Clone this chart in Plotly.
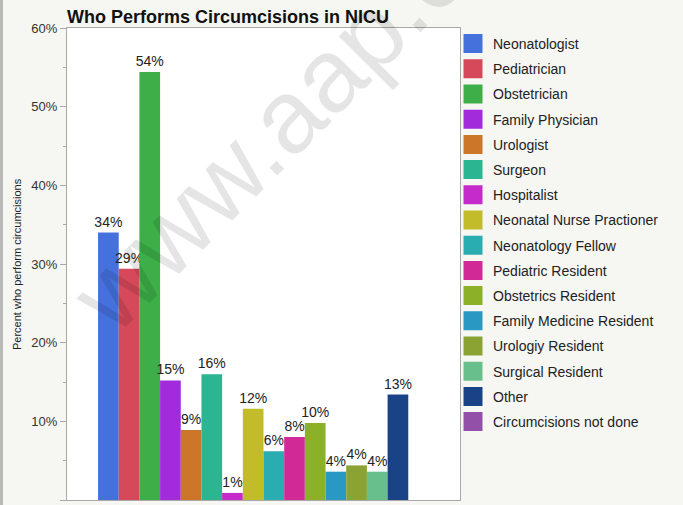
import plotly.graph_objects as go

categories = ["Neonatologist", "Pediatrician", "Obstetrician", "Family Physician", "Urologist",
              "Surgeon", "Hospitalist", "Neonatal Nurse Practioner", "Neonatology Fellow",
              "Pediatric Resident", "Obstetrics Resident", "Family Medicine Resident",
              "Urologiy Resident", "Surgical Resident", "Other", "Circumcisions not done"]
values = [34.0, 29.4, 54.4, 15.2, 8.9, 16.0, 0.9, 11.6, 6.2, 8.0, 9.8, 3.6, 4.4, 3.6, 13.4, 0.0]
colors = ["#4471dc", "#d5495a", "#3dae48", "#a22bdc", "#cc7629", "#2bb590", "#c52bca", "#c3bc2a",
          "#29adb0", "#d12a96", "#8cb027", "#2999c3", "#8ba332", "#69bf8b", "#1a4286", "#9250a8"]
yticks = [0, 10, 20, 30, 40, 50, 60]

W, H = 683, 505
L, R, T, B = 67, 223, 28, 5
pw = W - L - R
ph = H - T - B

fig = go.Figure()
for i, (name, v, c) in enumerate(zip(categories, values, colors)):
    fig.add_trace(go.Bar(
        x=[""], y=[v], name=name, marker=dict(color=c, line=dict(width=0)),
        text=[f"{round(v)}%" if v > 0 else ""], textposition="outside",
        textfont=dict(size=14, color="#222222", family="Liberation Sans, Arial"),
        constraintext="none", cliponaxis=False, showlegend=False, legendgroup=f"g{i}",
    ))
    fig.add_trace(go.Scatter(
        x=[None], y=[None], mode="markers", name=name, legendgroup=f"g{i}",
        marker=dict(symbol="square", size=16, color=c, line=dict(color=c, width=3)),
        showlegend=True,
    ))

fig.update_layout(
    width=W, height=H,
    margin=dict(l=L, r=R, t=T, b=B),
    paper_bgcolor="#f6f6f2", plot_bgcolor="#ffffff",
    barmode="group", bargap=0.158, bargroupgap=0,
    font=dict(family="Liberation Sans, Arial", color="#222222"),
    title=dict(text="<b>Who Performs Circumcisions in NICU</b>", x=L / W, xanchor="left",
               y=1 - 17 / H, yanchor="middle", font=dict(size=18, color="#111111")),
    xaxis=dict(showticklabels=False, ticks="", showgrid=False, showline=True,
               linecolor="#a8a8a8", linewidth=1, mirror=True, range=[-0.5, 0.5]),
    yaxis=dict(range=[0, 60], tickvals=yticks, ticktext=[f"{t}%" for t in yticks],
               ticks="outside", ticklen=6, tickcolor="#a8a8a8", showgrid=False,
               showline=True, linecolor="#a8a8a8", linewidth=1, mirror=True,
               tickfont=dict(size=13, color="#333333"),
               minor=dict(ticks="outside", ticklen=3, tickcolor="#a8a8a8", dtick=5, showgrid=False)),
    legend=dict(x=(453 - L) / pw, xanchor="left", y=1, yanchor="top",
                font=dict(size=14, color="#222222"), bgcolor="rgba(0,0,0,0)",
                itemsizing="trace", tracegroupgap=4, maxheight=480),
    showlegend=True,
)

fig.add_annotation(text="Percent who perform circumcisions", xref="paper", yref="paper",
                   x=-50 / pw, y=0.5, xanchor="center", yanchor="middle", textangle=-90,
                   showarrow=False, font=dict(size=11, color="#222222"))
fig.add_annotation(text="www.aap.org", xref="paper", yref="paper",
                   x=(302 - L) / pw, y=(H - B - 100) / ph, xanchor="center", yanchor="middle",
                   textangle=-45, showarrow=False,
                   font=dict(size=104, color="rgba(0,0,0,0.1)", family="Liberation Sans, Arial"))
fig.add_shape(type="rect", xref="paper", yref="paper", x0=-L / pw, x1=(-L + 3) / pw,
              y0=-B / ph, y1=1 + T / ph, fillcolor="#b8b8b8", line=dict(width=0), layer="below")

fig.write_html("out.html", config={"displayModeBar": False},
               post_script="document.body.style.margin='0';document.body.style.overflow='hidden';")
